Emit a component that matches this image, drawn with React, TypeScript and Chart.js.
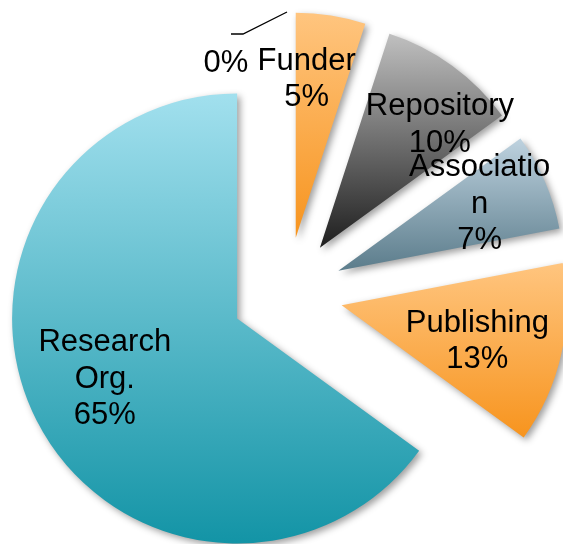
import React, { useEffect, useRef } from "react";
import { Chart, registerables } from "chart.js";

Chart.register(...registerables);

// ---- data ----
const categories = ["", "Funder", "Repository", "Association", "Publishing", "Research Org."];
const values = [0, 5, 10, 7, 13, 65];
// wrapped category text as it appears in the slice labels
const labelLines = [[], ["Funder"], ["Repository"], ["Associatio", "n"], ["Publishing"], ["Research", "Org."]];

// ---- styles ----
const topColors = ["#FFC57F", "#FFC57F", "#C0C0C0", "#BED2DF", "#FFC57F", "#A2E0EE"];
const bottomColors = ["#F7941E", "#F7941E", "#1E1E1E", "#5B7C8B", "#F7941E", "#1394A6"];
const EXPLODE = 56;
const RADIUS = 225;
const FONT = '31px "Liberation Sans", Arial, sans-serif';
const LINE_H = 36.5;
const LABEL_FACTOR = 0.65;
const labelNudges: [number, number][] = [[0, 0], [-12, -16], [34, -7], [7, -11], [-7, 2], [-2, -8]];

const piePlugin = {
  id: "explodedPie",
  afterDatasetsUpdate(chart: any) {
    const meta = chart.getDatasetMeta(0);
    meta.data.forEach((el: any) => {
      const mid = (el.startAngle + el.endAngle) / 2;
      el.x += Math.cos(mid) * EXPLODE;
      el.y += Math.sin(mid) * EXPLODE;
    });
  },
  beforeDatasetsDraw(chart: any) {
    const ctx = chart.ctx as CanvasRenderingContext2D;
    const meta = chart.getDatasetMeta(0);
    meta.data.forEach((el: any, i: number) => {
      const { x, y, startAngle, endAngle, outerRadius } = el;
      let minY = y, maxY = y;
      for (let k = 0; k <= 90; k++) {
        const a = startAngle + ((endAngle - startAngle) * k) / 90;
        const yy = y + Math.sin(a) * outerRadius;
        minY = Math.min(minY, yy);
        maxY = Math.max(maxY, yy);
      }
      const g = ctx.createLinearGradient(0, minY, 0, Math.max(maxY, minY + 1));
      g.addColorStop(0, topColors[i]);
      g.addColorStop(1, bottomColors[i]);
      el.options = { ...el.options, backgroundColor: g };
    });
    ctx.save();
    ctx.shadowColor = "rgba(0,0,0,0.38)";
    ctx.shadowBlur = 7;
    ctx.shadowOffsetX = 3;
    ctx.shadowOffsetY = 3;
  },
  afterDatasetsDraw(chart: any) {
    const ctx = chart.ctx as CanvasRenderingContext2D;
    ctx.restore();
    const meta = chart.getDatasetMeta(0);
    ctx.save();
    ctx.font = FONT;
    ctx.fillStyle = "#000";
    ctx.textAlign = "center";
    ctx.textBaseline = "alphabetic";
    meta.data.forEach((el: any, i: number) => {
      const pct = `${values[i]}%`;
      const mid = (el.startAngle + el.endAngle) / 2;
      if (values[i] === 0) {
        // leader line for zero slice
        const px = el.x + Math.cos(el.startAngle) * el.outerRadius;
        const py = el.y + Math.sin(el.startAngle) * el.outerRadius;
        ctx.strokeStyle = "#000";
        ctx.lineWidth = 1.3;
        ctx.beginPath();
        ctx.moveTo(px, py);
        ctx.lineTo(px - 44, py + 22);
        ctx.lineTo(px - 56, py + 22);
        ctx.stroke();
        ctx.fillText(pct, px - 61, py + 60);
        return;
      }
      const lines = [...labelLines[i], pct];
      const cx = el.x + Math.cos(mid) * el.outerRadius * LABEL_FACTOR + labelNudges[i][0];
      const cy = el.y + Math.sin(mid) * el.outerRadius * LABEL_FACTOR + labelNudges[i][1];
      const firstCenter = cy - ((lines.length - 1) * LINE_H) / 2;
      lines.forEach((t, k) => {
        ctx.fillText(t, cx, firstCenter + k * LINE_H + 11);
      });
    });
    ctx.restore();
  },
};

export default function App() {
  const ref = useRef<HTMLCanvasElement | null>(null);
  useEffect(() => {
    if (!ref.current) return;
    const chart = new Chart(ref.current, {
      type: "pie",
      data: {
        labels: categories,
        datasets: [
          {
            data: values,
            backgroundColor: topColors,
            borderWidth: 0,
            radius: RADIUS,
            clip: false,
          } as any,
        ],
      },
      options: {
        responsive: false,
        animation: false,
        devicePixelRatio: 1,
        layout: { padding: { left: 11, top: 42, right: 0, bottom: 0 } },
        plugins: { legend: { display: false }, tooltip: { enabled: false } },
        events: [],
      },
      plugins: [piePlugin],
    });
    return () => chart.destroy();
  }, []);
  return (
    <div style={{ position: "fixed", left: 0, top: 0, width: 563, height: 544, background: "#fff" }}>
      <canvas ref={ref} width={563} height={544} style={{ display: "block" }} />
    </div>
  );
}
